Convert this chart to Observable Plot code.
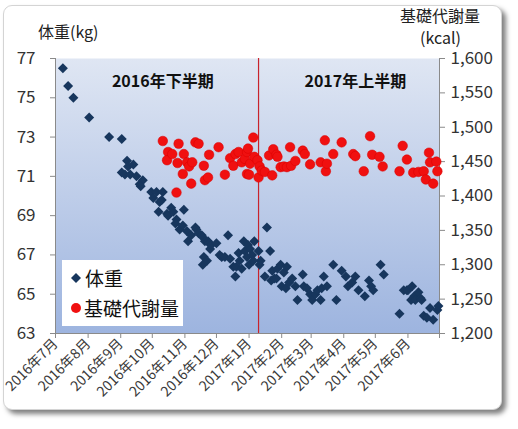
<!DOCTYPE html>
<html><head><meta charset="utf-8">
<script src="https://cdn.jsdelivr.net/npm/d3@7"></script>
<script src="https://cdn.jsdelivr.net/npm/@observablehq/plot@0.6"></script>
<style>
body{margin:0;background:#fff;font-family:"Noto Sans CJK JP","Noto Sans",sans-serif;}
#wrap{position:relative;width:518px;height:429px;overflow:hidden;}
#frame{position:absolute;left:3px;top:5px;width:497px;height:403px;border:1px solid #d4d4d4;border-radius:9px;box-shadow:4px 4px 5px rgba(0,0,0,0.5);background:#fff;}
#chart{position:absolute;left:0;top:0;}
.t{position:absolute;font-size:16px;color:#222;white-space:nowrap;line-height:1;}
#legend{position:absolute;left:62px;top:260px;width:121px;height:66px;background:#fff;}
#legend .row{position:absolute;left:6px;display:flex;align-items:center;font-size:19px;color:#111;line-height:1;}
</style></head>
<body><div id="wrap"><div id="frame"></div><div id="chart"></div>
<div class="t" style="left:38px;top:23px;">体重(kg)</div>
<div class="t" style="left:400px;top:7px;">基礎代謝量</div>
<div class="t" style="left:420px;top:29px;">(kcal)</div>
<div id="legend">
 <div class="row" style="top:8px;"><svg width="16" height="16"><path d="M8,3L13,8L8,13L3,8Z" fill="#17365d"/></svg><span style="margin-left:1px">体重</span></div>
 <div class="row" style="top:38px;"><svg width="16" height="16"><circle cx="8" cy="8" r="5" fill="#f01010"/></svg><span>基礎代謝量</span></div>
</div>
</div>
<script>
// ---- data ----
const monthTicks = ["2016-07-01","2016-08-01","2016-09-01","2016-10-01","2016-11-01","2016-12-01","2017-01-01","2017-02-01","2017-03-01","2017-04-01","2017-05-01","2017-06-01","2017-07-01"];
const monthLabels = ["2016年7月","2016年8月","2016年9月","2016年10月","2016年11月","2016年12月","2017年1月","2017年2月","2017年3月","2017年4月","2017年5月","2017年6月"];
const kgTicks = [63,65,67,69,71,73,75,77];
const kcalTicks = [1200,1250,1300,1350,1400,1450,1500,1550,1600];
const dividerDate = ["2017-01-10"];
const periodLabels = ["2016年下半期","2017年上半期"];
const periodCenters = ["2016-10-11","2017-04-12"];

const weightDates = ["2016-07-08","2016-07-13","2016-07-18","2016-08-02","2016-08-21","2016-09-02","2016-09-02","2016-09-05","2016-09-07","2016-09-08","2016-09-10","2016-09-13","2016-09-16","2016-09-19","2016-09-22","2016-09-20","2016-09-30","2016-10-02","2016-10-05","2016-10-08","2016-10-11","2016-10-10","2016-10-07","2016-10-15","2016-10-19","2016-10-16","2016-10-21","2016-10-24","2016-10-23","2016-10-27","2016-10-31","2016-10-30","2016-11-03","2016-11-04","2016-11-07","2016-11-11","2016-11-12","2016-11-14","2016-11-17","2016-11-18","2016-11-20","2016-11-23","2016-11-24","2016-11-25","2016-11-26","2016-11-19","2016-11-22","2016-11-18","2016-12-01","2016-12-04","2016-12-06","2016-12-09","2016-12-12","2016-12-14","2016-12-17","2016-12-19","2016-12-20","2016-12-22","2016-12-23","2016-12-25","2016-12-27","2016-12-28","2016-12-30","2016-12-31","2017-01-01","2017-01-02","2017-01-04","2017-01-06","2017-01-10","2017-01-11","2017-01-12","2017-01-05","2017-01-16","2017-01-18","2017-01-21","2017-01-23","2017-01-22","2017-01-25","2017-01-28","2017-01-27","2017-01-31","2017-02-01","2017-02-03","2017-02-05","2017-02-06","2017-02-08","2017-02-11","2017-02-14","2017-02-16","2017-02-21","2017-02-22","2017-02-25","2017-02-28","2017-03-02","2017-03-05","2017-03-07","2017-03-10","2017-03-11","2017-03-13","2017-03-16","2017-03-22","2017-03-25","2017-03-30","2017-04-03","2017-04-05","2017-04-09","2017-04-12","2017-04-15","2017-04-21","2017-04-25","2017-04-27","2017-04-29","2017-05-06","2017-05-09","2017-05-24","2017-05-28","2017-05-31","2017-06-01","2017-06-05","2017-06-07","2017-06-04","2017-06-08","2017-06-11","2017-06-13","2017-06-14","2017-06-16","2017-06-19","2017-06-22","2017-06-25","2017-06-29","2017-06-30"];
const weightValues = [76.5,75.6,75.0,74.0,73.0,72.9,71.2,71.1,71.8,71.5,71.1,71.6,71.0,70.6,70.8,70.5,70.2,69.9,70.2,69.7,70.2,69.8,69.2,69.1,69.4,69.0,69.2,68.8,68.6,68.3,69.3,68.5,68.2,67.7,68.0,68.4,68.3,68.1,68.0,67.9,67.7,67.7,67.6,67.3,67.5,66.9,66.7,66.5,67.6,67.0,66.9,66.9,68.0,66.8,66.4,65.9,66.4,67.1,66.7,66.3,67.7,67.2,66.9,67.5,66.5,67.3,67.0,67.7,67.2,66.5,66.7,66.7,65.9,68.4,67.2,66.2,65.7,65.8,66.3,65.8,66.5,65.4,66.1,65.3,66.4,65.6,65.8,65.4,64.7,66.0,65.4,65.3,65.0,64.7,65.0,65.2,64.7,65.3,65.9,65.4,66.5,64.7,66.2,65.9,65.4,65.6,65.9,65.2,64.9,65.7,65.4,65.2,66.5,66.0,64.0,65.2,65.2,65.2,65.4,64.9,64.7,64.7,65.1,64.8,64.7,63.9,63.8,64.3,63.7,64.2,64.4];

const bmrDates = ["2016-10-11","2016-10-16","2016-10-15","2016-10-20","2016-10-24","2016-10-26","2016-10-25","2016-10-31","2016-10-30","2016-11-03","2016-11-05","2016-11-07","2016-11-08","2016-11-11","2016-11-14","2016-11-19","2016-11-20","2016-11-23","2016-11-24","2016-12-03","2016-12-09","2016-12-14","2016-12-17","2016-12-19","2016-12-22","2016-12-25","2016-12-28","2016-12-30","2016-12-31","2016-12-30","2017-01-02","2017-01-01","2017-01-05","2017-01-06","2017-01-09","2017-01-10","2017-01-11","2017-01-13","2017-01-16","2017-01-20","2017-01-23","2017-01-24","2017-01-27","2017-01-28","2017-01-31","2017-02-03","2017-02-06","2017-02-09","2017-02-10","2017-02-14","2017-02-21","2017-02-23","2017-02-28","2017-03-10","2017-03-14","2017-03-15","2017-03-16","2017-03-22","2017-03-30","2017-04-10","2017-04-12","2017-04-20","2017-04-26","2017-04-28","2017-05-05","2017-05-08","2017-05-24","2017-05-27","2017-05-31","2017-06-06","2017-06-11","2017-06-16","2017-06-18","2017-06-21","2017-06-22","2017-06-25","2017-06-28","2017-06-29"];
const bmrValues = [1480,1464,1452,1461,1405,1476,1448,1461,1432,1449,1443,1418,1449,1478,1476,1444,1423,1427,1460,1471,1431,1455,1444,1461,1464,1449,1454,1464,1469,1432,1447,1431,1485,1457,1452,1427,1443,1437,1435,1459,1430,1468,1460,1457,1442,1443,1442,1471,1444,1451,1466,1461,1446,1449,1481,1436,1447,1461,1478,1461,1458,1436,1487,1460,1457,1443,1436,1473,1453,1434,1435,1436,1424,1463,1449,1418,1450,1436];

// ---- build ----
const parse = s => new Date(s + "T00:00:00Z");
const yDomain = [kgTicks[0], kgTicks[kgTicks.length-1]];
const kDomain = [kcalTicks[0], kcalTicks[kcalTicks.length-1]];
const toKg = v => yDomain[0] + (v - kDomain[0]) / (kDomain[1]-kDomain[0]) * (yDomain[1]-yDomain[0]);
const fromKg = v => Math.round(kDomain[0] + (v - yDomain[0]) / (yDomain[1]-yDomain[0]) * (kDomain[1]-kDomain[0]));
const tickDates = monthTicks.map(parse);
const xDomain = [tickDates[0], tickDates[tickDates.length-1]];
const labelMap = new Map(tickDates.map((d,i)=>[+d, monthLabels[i] ?? ""]));
const weight = weightDates.map((d,i)=>({date: parse(d), kg: weightValues[i]}));
const bmr = bmrDates.map((d,i)=>({date: parse(d), kcal: bmrValues[i]}));
const periods = periodLabels.map((t,i)=>({label:t, date: parse(periodCenters[i])}));
const axisGray = "#8a8a8a";

const chart = Plot.plot({
  width: 518, height: 429,
  marginLeft: 55, marginRight: 79, marginTop: 58, marginBottom: 96,
  style: {fontFamily: '"Noto Sans CJK JP","Noto Sans",sans-serif', background: "transparent", overflow: "visible"},
  x: {type: "utc", domain: xDomain},
  y: {domain: yDomain},
  marks: [
    Plot.frame({fill: "url(#plotBg)", stroke: null}),
    Plot.ruleX(xDomain, {stroke: axisGray}),
    Plot.ruleY([yDomain[0]], {stroke: axisGray}),
    Plot.axisY({ticks: kgTicks, anchor: "left", tickSize: 5, tickPadding: 15, fontSize: 17, stroke: axisGray, fill: "#333", label: null}),
    Plot.axisY({ticks: kcalTicks.map(toKg), anchor: "right", tickSize: 5, tickPadding: 6, fontSize: 17, stroke: axisGray, fill: "#333", label: null,
      tickFormat: d => d3.format(",")(fromKg(d))}),
    Plot.axisX({ticks: tickDates, tickFormat: d => labelMap.get(+d) ?? "", tickRotate: -45, tickSize: 5, tickPadding: 3, fontSize: 14, stroke: axisGray, fill: "#3a3a3a", label: null}),
    Plot.ruleX(dividerDate.map(parse), {stroke: "#c8232c", strokeWidth: 1.2}),
    Plot.dot(weight, {x: "date", y: "kg", symbol: "diamond2", r: 4.5, fill: "#17365d", stroke: null}),
    Plot.dot(bmr, {x: "date", y: d => toKg(d.kcal), r: 4.8, fill: "#f01010", stroke: "#d80000", strokeWidth: 0.5}),
    Plot.text(periods, {x: "date", text: "label", frameAnchor: "top", dy: 17, fontSize: 16, fontWeight: "bold", fill: "#111"})
  ]
});
const ns = "http://www.w3.org/2000/svg";
const defs = document.createElementNS(ns, "defs");
defs.innerHTML = '<linearGradient id="plotBg" x1="0" y1="0" x2="0" y2="1"><stop offset="0" stop-color="#dfe6f3"/><stop offset="1" stop-color="#9db4df"/></linearGradient>';
chart.insertBefore(defs, chart.firstChild);
document.getElementById("chart").appendChild(chart);
</script>
</body></html>
